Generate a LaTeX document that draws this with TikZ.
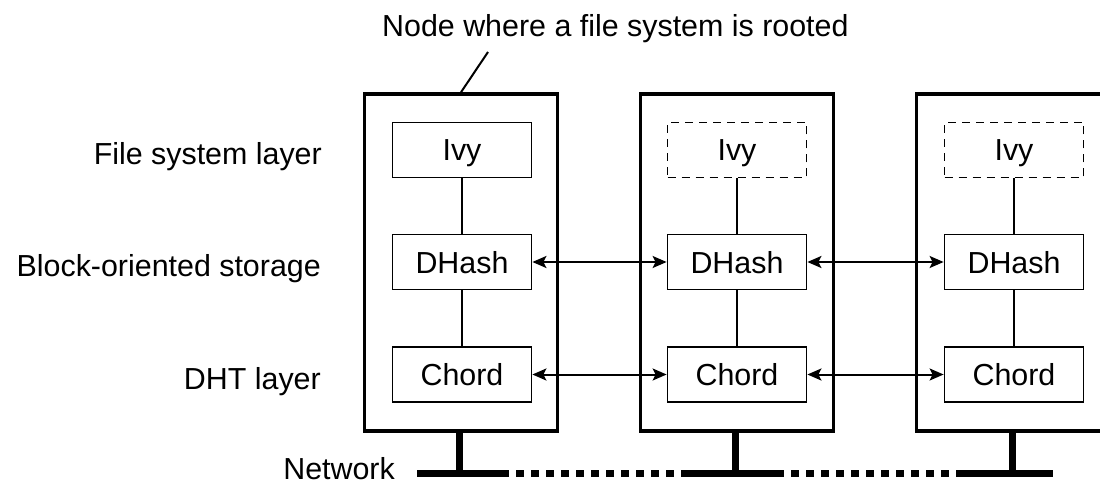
\documentclass[tikz,border=0pt]{standalone}
\usepackage{fontspec}
\setmainfont{Liberation Sans}
\usetikzlibrary{arrows.meta}
\begin{document}
\begin{tikzpicture}[x=1pt,y=-1pt,
  every node/.style={font=\fontsize{30.4}{36}\selectfont},
  hostbox/.style={draw,line width=3.5pt,minimum width=193pt,minimum height=337pt,inner sep=0pt},
  layerbox/.style={draw,line width=1.8pt,minimum width=139pt,minimum height=55pt,inner sep=0pt,text height=22pt,text depth=0pt},
  ghostbox/.style={layerbox,dash pattern=on 8pt off 6pt},
  link/.style={line width=1.5pt},
  peer/.style={line width=2pt,{Stealth[length=14pt,width=12pt,inset=3pt]}-{Stealth[length=14pt,width=12pt,inset=3pt]}},
  stem/.style={line width=7pt},
  bus/.style={line width=7pt},
  busdots/.style={line width=7pt,dash pattern=on 8pt off 7pt,dash phase=8pt},
  lbl/.style={anchor=base east,inner sep=0pt}
]
\useasboundingbox (0,0) rectangle (1100,486);
\clip (0,0) rectangle (1100,486);

% title
\node[anchor=base west,inner sep=0pt] (title) at (382,36.5) {Node where a file system is rooted};

% host boxes
\node[hostbox] (b1) at (461,262.5) {};
\node[hostbox] (b2) at (737,262.5) {};
\node[hostbox] (b3) at (1013,262.5) {};

% layers
\node[layerbox] (i1) at (462,150) {Ivy};
\node[ghostbox] (i2) at (737,150) {Ivy};
\node[ghostbox] (i3) at (1014,150) {Ivy};
\node[layerbox] (d1) at (462,262) {DHash};
\node[layerbox] (d2) at (737,262) {DHash};
\node[layerbox] (d3) at (1014,262) {DHash};
\node[layerbox] (c1) at (462,374.5) {Chord};
\node[layerbox] (c2) at (737,374.5) {Chord};
\node[layerbox] (c3) at (1014,374.5) {Chord};

\foreach \k in {1,2,3}{
  \draw[link] (i\k.south) -- (d\k.north);
  \draw[link] (d\k.south) -- (c\k.north);
}

% peer arrows
\draw[peer] (d1.east) -- (d2.west);
\draw[peer] (d2.east) -- (d3.west);
\draw[peer] (c1.east) -- (c2.west);
\draw[peer] (c2.east) -- (c3.west);

% root pointer
\coordinate (rootlbl) at (488,52);
\draw[line width=2pt] (rootlbl) -- (b1.north);

% left labels
\node[lbl] (l1) at (322,165) {File system layer};
\node[lbl] (l2) at (321,277) {Block-oriented storage};
\node[lbl] (l3) at (321,389) {DHT layer};
\node[lbl] (l4) at (395,479) {Network};

% network
\coordinate (n0) at (417,473);
\coordinate (n1) at (509,473);
\coordinate (n2) at (683,473);
\coordinate (n3) at (784,473);
\coordinate (n4) at (963,473);
\coordinate (n5) at (1053,473);
\coordinate (s1) at (459,473);
\coordinate (s2) at (735,473);
\coordinate (s3) at (1012,473);
\draw[bus] (n0) -- (n1);
\draw[bus] (n2) -- (n3);
\draw[bus] (n4) -- (n5);
\draw[busdots] (n1) -- (n2);
\draw[busdots] (n3) -- (n4);
\draw[stem] (b1.south -| s1) -- (s1);
\draw[stem] (b2.south -| s2) -- (s2);
\draw[stem] (b3.south -| s3) -- (s3);
\end{tikzpicture}
\end{document}
